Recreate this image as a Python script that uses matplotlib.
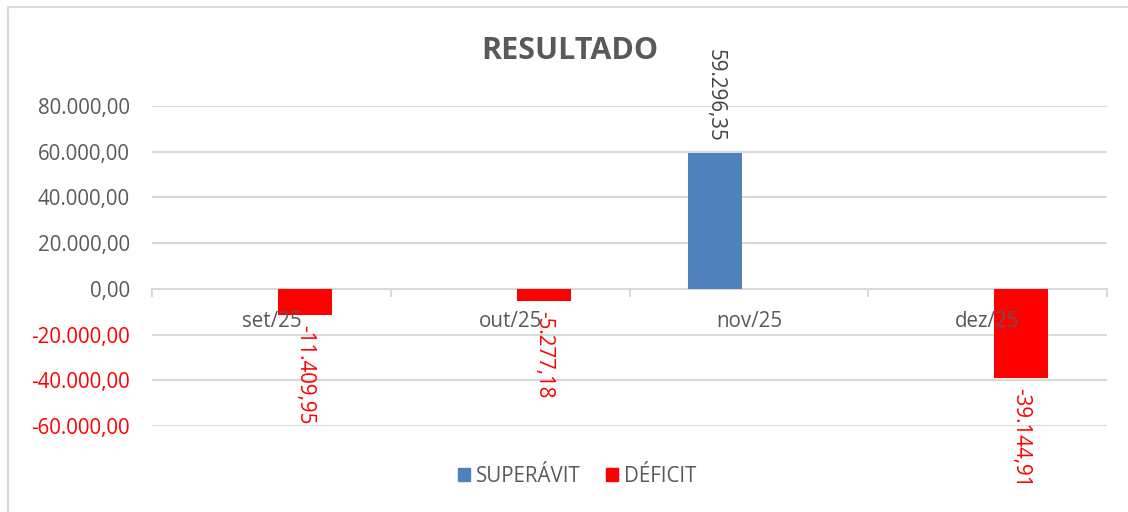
import numpy as np
import matplotlib.pyplot as plt
from matplotlib.patches import Rectangle, Patch

plt.rcParams['font.family'] = ['Open Sans', 'DejaVu Sans']

meses = ['set/25', 'out/25', 'nov/25', 'dez/25']
superavit = [0, 0, 59296.35, 0]
deficit = [-11409.95, -5277.18, 0, -39144.91]
yticks = [-60000, -40000, -20000, 0, 20000, 40000, 60000, 80000]

AZUL = '#4F81BD'
VERMELHO = '#FF0000'
CINZA = '#595959'
GRADE = '#D9D9D9'


def fmt_br(v):
    # 12345.6 -> 12.345,60
    s = f'{abs(v):,.2f}'.replace(',', 'X').replace('.', ',').replace('X', '.')
    return ('-' if v < 0 else '') + s


fig = plt.figure(figsize=(11.28, 5.12), dpi=100)
ax = fig.add_axes([152 / 1128, 1 - 426 / 512, 955 / 1128, 320 / 512])

x = np.arange(len(meses))
larg = 0.226
desl = 0.14
b1 = ax.bar(x - desl, superavit, larg, color=AZUL, zorder=2)
b2 = ax.bar(x + desl, deficit, larg, color=VERMELHO, zorder=2)

ax.set_xlim(-0.5, len(meses) - 0.5)
ax.set_ylim(-60000, 80000)

for t in yticks:
    if t != 0:
        ax.axhline(t, color=GRADE, lw=1.5, zorder=0)

for s in ['top', 'right', 'left']:
    ax.spines[s].set_visible(False)
ax.spines['bottom'].set_position(('data', 0))
ax.spines['bottom'].set_color(GRADE)
ax.spines['bottom'].set_linewidth(1.5)
ax.spines['bottom'].set_zorder(1)

ax.set_xticks(x)
ax.set_xticklabels(meses)
ax.set_xticks(np.arange(len(meses) + 1) - 0.5, minor=True)
ax.tick_params(axis='x', which='major', length=0, pad=16, labelsize=14.8, labelcolor=CINZA)
ax.tick_params(axis='x', which='minor', length=6, width=1.5, color=GRADE, direction='out')
ax.xaxis.set_zorder(3)

ax.set_yticks(yticks)
ax.set_yticklabels([fmt_br(t) for t in yticks])
ax.tick_params(axis='y', length=0, pad=16, labelsize=14.8)
for lbl, t in zip(ax.get_yticklabels(), yticks):
    lbl.set_color(VERMELHO if t < 0 else CINZA)

# rótulos de dados verticais
for barras, cor in [(b1, '#404040'), (b2, VERMELHO)]:
    for r in barras:
        v = r.get_height()
        if v == 0:
            continue
        xc = r.get_x() + r.get_width() / 2
        if v > 0:
            ax.annotate(fmt_br(v), (xc, v), xytext=(0, 8), textcoords='offset points',
                        rotation=270, ha='center', va='bottom', fontsize=14.8, color=cor,
                        annotation_clip=False, zorder=4)
        else:
            ax.annotate(fmt_br(v), (xc, v), xytext=(0, -7), textcoords='offset points',
                        rotation=270, ha='center', va='top', fontsize=14.8, color=cor,
                        annotation_clip=False, zorder=4)

fig.text(570 / 1128, 1 - 51 / 512, 'RESULTADO', ha='center', va='center',
         fontsize=22, fontweight='bold', color=CINZA)

handles = [Patch(color=AZUL, label='SUPERÁVIT'), Patch(color=VERMELHO, label='DÉFICIT')]
fig.legend(handles=handles, loc='center', bbox_to_anchor=(577 / 1128, 1 - 476 / 512),
           ncol=2, frameon=False, fontsize=14.8, handlelength=0.6, handleheight=0.6,
           handletextpad=0.3, columnspacing=1.2, labelcolor=CINZA)

fig.patches.append(Rectangle((8 / 1128, -0.05), 1.1, 1 - 7 / 512 + 0.05,
                             transform=fig.transFigure, fill=False,
                             edgecolor=GRADE, lw=1.5))

fig.savefig('out.png', dpi=100)
